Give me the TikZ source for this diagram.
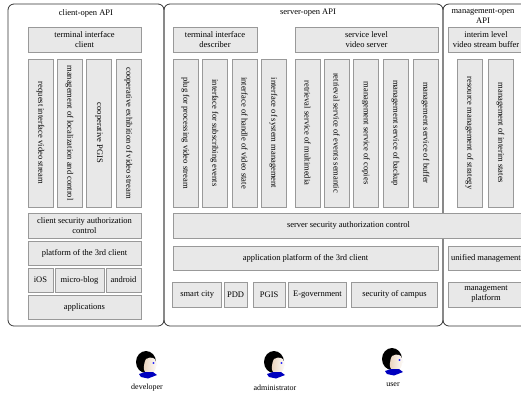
\documentclass[tikz,border=0pt]{standalone}
\usepackage{fontspec}
\setmainfont{Liberation Serif}

\begin{document}
\begin{tikzpicture}[x=1pt,y=-1pt,
    panel/.style={draw=black!80,line width=0.8pt,rounded corners=6pt},
    box/.style={draw=gray!80,fill=gray!18,line width=0.6pt,inner sep=1pt,
        align=center,font=\fontsize{8.5}{10}\selectfont},
    vbox/.style={box,rotate=-90,minimum width=148pt,minimum height=25pt},
    title/.style={align=center,font=\fontsize{8.5}{10}\selectfont},
    who/.style={font=\fontsize{8}{9}\selectfont,inner sep=1pt},
    head/.pic={
        % hair
        \fill[black] (-1,-2) ellipse (10 and 11);
        % face
        \shade[left color=brown!35,right color=white]
            (-1,-5) .. controls (4,-8) and (9,-6) .. (9,-2) -- (11,1) -- (9,2.5)
            .. controls (9,6) and (7,9) .. (2,9.5) .. controls (-2,9.5) and (-4,6) .. (-3,2)
            .. controls (-2,-1) and (-3,-3) .. (-1,-5) -- cycle;
        % eye
        \fill[blue] (6.5,-1) ellipse (1.2 and 0.8);
        % collar
        \fill[blue!75!black] (-8,10) -- (-2,8) -- (6,8) -- (10,11) -- (1,14.5) -- (-6,13) -- cycle;
    }]

    \useasboundingbox (0,0) rectangle (521,392);

    %%%%%%%%%%%%%%%%%%%%%%%%%%%%%%%%%%%%%%%%%%%%%%%%%%%%%%

    % the three API frames
    \draw[panel] (8,4) rectangle (164,326);
    \draw[panel] (164,4) rectangle (443,326);
    \draw[panel] (443,4) rectangle (580,326);

    %%%%%%%%%%%%%%%%%%%%%%%%%%%%%%%%%%%%%%%%%%%%%%%%%%%%%%

    % client-open API
    \node[title] (ctitle) at (86,13) {client-open API};
    \node[box,minimum width=113pt,minimum height=25pt] (tic) at (84.5,39.5) {terminal interface\\client};
    \node[vbox] (req) at (40.5,133) {request interface video stream};
    \node[vbox] (loc) at (69.5,133) {management of localization and control};
    \node[vbox] (cpgis) at (99,133) {cooperative PGIS};
    \node[vbox] (coop) at (128.5,133) {cooperative exhibition of video stream};

    % client security and 3rd client platform
    \node[box,minimum width=113pt,minimum height=25pt] (csac) at (84.5,225.5) {client security authorization\\control};
    \node[box,minimum width=113pt,minimum height=24pt] (p3c) at (84.5,253) {platform of the 3rd client};
    \node[box,minimum width=25pt,minimum height=24pt] (ios) at (40.5,280) {iOS};
    \node[box,minimum width=49pt,minimum height=24pt] (blog) at (79.5,280) {micro-blog};
    \node[box,minimum width=35pt,minimum height=24pt] (andr) at (123.5,280) {android};
    \node[box,minimum width=113pt,minimum height=24pt] (apps) at (84.5,307) {applications};

    %%%%%%%%%%%%%%%%%%%%%%%%%%%%%%%%%%%%%%%%%%%%%%%%%%%%%%

    % server-open API
    \node[title] (stitle) at (308,13) {server-open API};
    \node[box,minimum width=84pt,minimum height=25pt] (tid) at (215,39.5) {terminal interface\\describer};
    \node[box,minimum width=143pt,minimum height=25pt] (slvs) at (366.5,39.5) {service level\\video server};

    % describer interfaces
    \node[vbox] (plug) at (185.5,133) {plug for processing video stream};
    \node[vbox] (subs) at (214.5,133) {interface for subscribing events};
    \node[vbox] (hvs) at (244.5,133) {interface of handle of video state};
    \node[vbox] (sysm) at (273.5,133) {interface of system management};

    % video server services
    \node[vbox] (rmm) at (307.5,133) {retrieval service of multimedia};
    \node[vbox] (rev) at (336.5,133) {retrieval service of events semantic};
    \node[vbox] (copy) at (366,133) {management service of copies};
    \node[vbox] (bkp) at (395.5,133) {management service of backup};
    \node[vbox] (buf) at (425.5,133) {management service of buffer};

    % server security runs over the frame border
    \node[box,minimum width=351pt,minimum height=25pt] (ssac) at (348.5,225.5) {server security authorization control};
    \node[box,minimum width=265pt,minimum height=24pt] (ap3c) at (305.5,258) {application platform of the 3rd client};

    % applications
    \node[box,minimum width=49pt,minimum height=25pt] (city) at (197.2,294.5) {smart city};
    \node[box,minimum width=23pt,minimum height=25pt] (pdd) at (235.6,294.5) {PDD};
    \node[box,minimum width=31.7pt,minimum height=25pt] (spgis) at (269.2,294.5) {PGIS};
    \node[box,minimum width=58.4pt,minimum height=25pt] (egov) at (317.5,294.5) {E-government};
    \node[box,minimum width=85.6pt,minimum height=25pt] (camp) at (394.5,294.5) {security of campus};

    %%%%%%%%%%%%%%%%%%%%%%%%%%%%%%%%%%%%%%%%%%%%%%%%%%%%%%

    % management-open API
    \node[title] (mtitle) at (483,16) {management-open\\API};
    \node[box,minimum width=76pt,minimum height=25pt] (ilvsb) at (486,39.5) {interim level\\video stream buffer};
    \node[vbox] (strat) at (469.5,133) {resource management of strategy};
    \node[vbox] (interim) at (500.5,133) {management of interim states};
    \node[box,minimum width=76pt,minimum height=24pt] (uman) at (486,258) {unified management};
    \node[box,minimum width=76pt,minimum height=25pt] (mplat) at (486,294.5) {management\\platform};

    %%%%%%%%%%%%%%%%%%%%%%%%%%%%%%%%%%%%%%%%%%%%%%%%%%%%%%

    % roles
    \foreach \px/\py/\nm/\lbl in {147/364/dev/developer,275/364/adm/administrator,393/361/usr/user}{
        \pic at (\px,\py) {head};
        \node[who] (\nm) at (\px,\py+24) {\lbl};
    }

\end{tikzpicture}
\end{document}
